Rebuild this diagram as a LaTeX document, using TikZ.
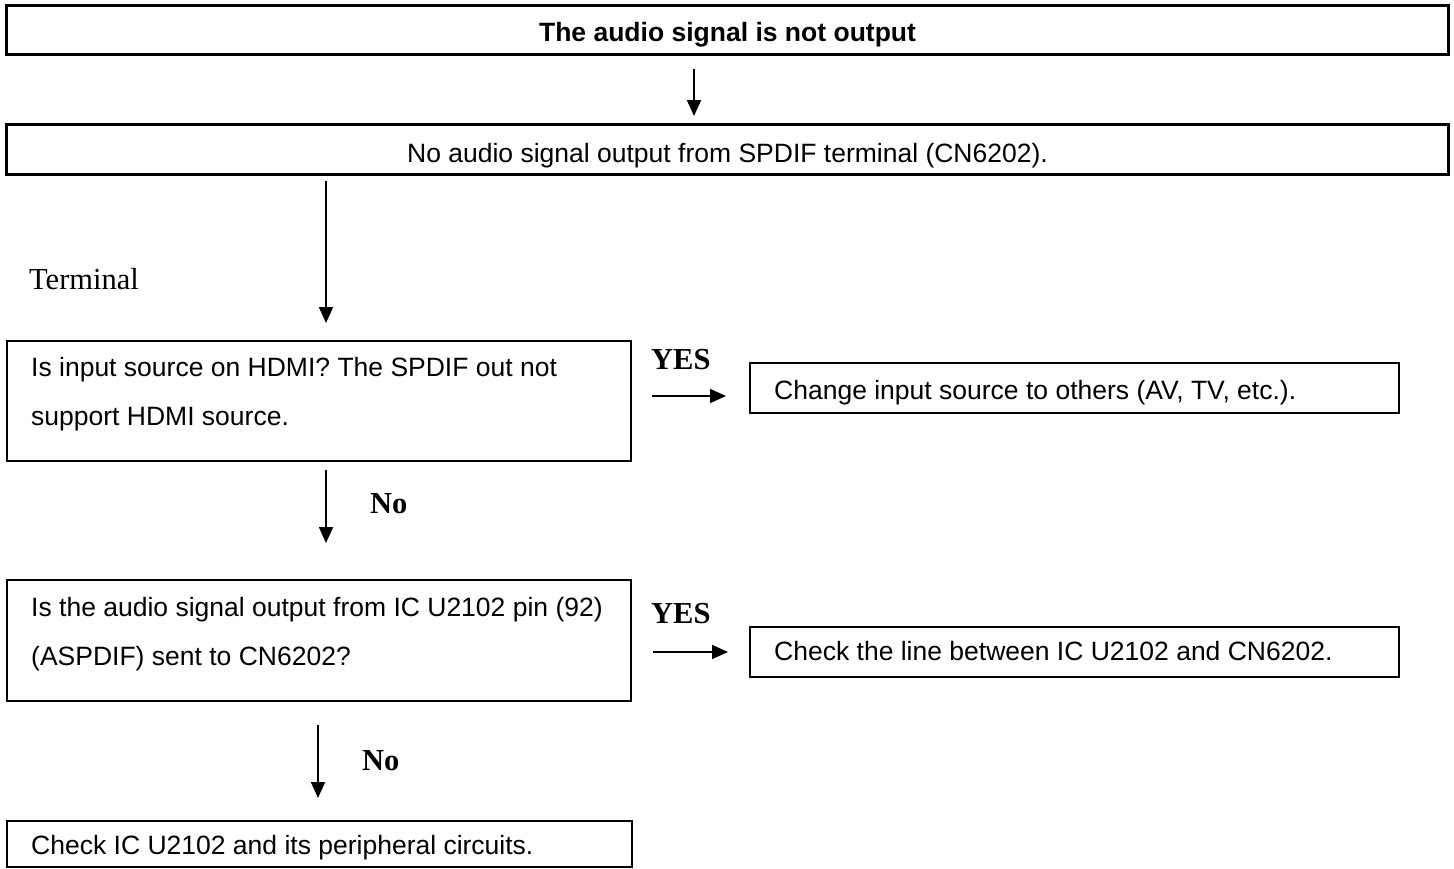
\documentclass[tikz,border=0pt]{standalone}
\usepackage{fontspec}
\setmainfont{Liberation Serif}
\newfontfamily\arialfont{Liberation Sans}
\usetikzlibrary{arrows.meta}
\begin{document}
\begin{tikzpicture}[x=1pt,y=-1pt,
  frame/.style={draw=black, line width=2.2pt, inner sep=0pt, anchor=north west},
  heavyframe/.style={frame, line width=3pt},
  centretext/.style={font=\arialfont\fontsize{26.5}{32}\selectfont, text height=25pt, text depth=0pt},
  titletext/.style={font=\arialfont\bfseries\fontsize{26.5}{32}\selectfont, text height=22pt, text depth=0pt},
  linetext/.style={font=\arialfont\fontsize{26.5}{32}\selectfont, inner sep=0pt, anchor=west, text height=19pt, text depth=0pt},
  blocktext/.style={font=\arialfont\fontsize{26.5}{49}\selectfont, inner sep=0pt, anchor=north west, align=left},
  seriflabel/.style={font=\fontsize{30.5}{36}\selectfont, inner sep=0pt, anchor=base west},
  answer/.style={font=\bfseries\fontsize{30.5}{36}\selectfont, inner sep=0pt, anchor=base west},
  flow/.style={draw=black, line width=1.8pt, -{Triangle[length=16pt,width=14pt]}}]

\useasboundingbox (0,0) rectangle (1454,868);
\fill[white] (0,0) rectangle (1454,868);

% boxes
\node[heavyframe, titletext, minimum width=1442pt, minimum height=49pt] (top) at (5,4) {The audio signal is not output};
\node[heavyframe, centretext, minimum width=1442pt, minimum height=50pt] (cond) at (5,123) {No audio signal output from SPDIF terminal (CN6202).};
\node[frame, minimum width=624pt, minimum height=120pt] (q1) at (6,340) {};
\node[frame, minimum width=649pt, minimum height=50pt] (r1) at (749,362) {};
\node[frame, minimum width=624pt, minimum height=121pt] (q2) at (6,579) {};
\node[frame, minimum width=649pt, minimum height=50pt] (r2) at (749,626) {};
\node[frame, minimum width=625pt, minimum height=46pt] (fin) at (6,820) {};

% texts
\node[seriflabel] (term) at (29,289) {Terminal};
\node[blocktext] (q1text) at (31,357) {Is input source on HDMI? The SPDIF out not\\support HDMI source.};
\node[linetext] (r1text) at (774,390) {Change input source to others (AV, TV, etc.).};
\node[blocktext] (q2text) at (31,597) {Is the audio signal output from IC U2102 pin (92)\\(ASPDIF) sent to CN6202?};
\node[linetext] (r2text) at (774,651) {Check the line between IC U2102 and CN6202.};
\node[linetext] (fintext) at (31,845) {Check IC U2102 and its peripheral circuits.};

\node[answer] (yes1) at (651,369) {YES};
\node[answer] (no1) at (370,513) {No};
\node[answer] (yes2) at (651,623) {YES};
\node[answer] (no2) at (362,770) {No};

% connector guides
\coordinate (x1) at (694,0);
\coordinate (x2) at (326,0);
\coordinate (y3) at (0,396);
\coordinate (y5) at (0,652);
\coordinate (x6) at (318,0);

% connectors
\draw[flow, shorten <=13pt, shorten >=7pt] (top.south -| x1) -- (cond.north -| x1);
\draw[flow, shorten <=5pt, shorten >=17pt] (cond.south -| x2) -- (q1.north -| x2);
\draw[flow, shorten <=20pt, shorten >=23pt] (q1.east |- y3) -- (r1.west |- y3);
\draw[flow, shorten <=8pt, shorten >=36pt] (q1.south -| x2) -- (q2.north -| x2);
\draw[flow, shorten <=21pt, shorten >=21pt] (q2.east |- y5) -- (r2.west |- y5);
\draw[flow, shorten <=23pt, shorten >=22pt] (q2.south -| x6) -- (fin.north -| x6);
\end{tikzpicture}
\end{document}
